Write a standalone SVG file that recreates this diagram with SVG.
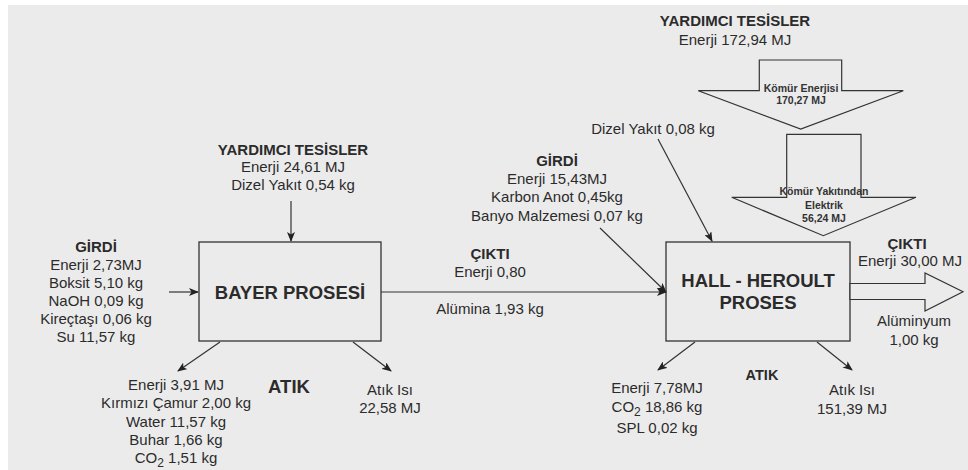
<svg xmlns="http://www.w3.org/2000/svg" width="968" height="470" viewBox="0 0 968 470">
<defs>
<style>
text{font-family:"Liberation Sans",Arial,sans-serif;fill:#2b2b2b;text-anchor:middle}
.r{font-size:15px}
.b{font-size:15px;font-weight:bold}
.big{font-size:18.5px;font-weight:bold}
.s{font-size:10.5px;font-weight:bold;fill:#333}
.box{fill:none;stroke:#333;stroke-width:1.3}
.blk{fill:#ebebeb;stroke:#333;stroke-width:1.2}
.ln{stroke:#333;stroke-width:1.2;fill:none;marker-end:url(#ah)}
</style>
<marker id="ah" markerWidth="10" markerHeight="8" refX="9" refY="4" orient="auto" markerUnits="userSpaceOnUse">
<path d="M0,0 L10,4 L0,8 L2.5,4 Z" fill="#222"/>
</marker>
</defs>
<rect width="968" height="470" fill="#ffffff"/>
<rect x="8" y="5" width="960" height="465" fill="#ebebeb"/>

<g id="connectors">
<line class="ln" x1="169" y1="292" x2="198" y2="292"/>
<line class="ln" x1="291" y1="201" x2="291" y2="241"/>
<line class="ln" x1="381" y1="292" x2="666" y2="292"/>
<line class="ln" x1="600" y1="228" x2="666" y2="292"/>
<line class="ln" x1="658" y1="139" x2="712" y2="241"/>
<line class="ln" x1="220" y1="342" x2="178" y2="371"/>
<line class="ln" x1="353" y1="342" x2="391" y2="371"/>
<line class="ln" x1="695" y1="342" x2="658" y2="370"/>
<line class="ln" x1="817" y1="342" x2="852" y2="370"/>
</g>

<g id="bayer">
<rect class="box" x="199" y="242" width="182" height="99"/>
<text class="big" x="290" y="299">BAYER PROSESİ</text>
</g>

<g id="hall-heroult">
<rect class="box" x="666" y="242" width="184" height="99"/>
<text class="big" x="758" y="287">HALL - HEROULT</text>
<text class="big" x="758" y="309">PROSES</text>
</g>

<g id="kömür-enerjisi">
<polygon class="blk" points="759.3,60 841.7,60 841.7,90.7 903.3,90.7 800.7,129 698.3,90.7 759.3,90.7"/>
<text class="s" x="801" y="91.5">Kömür Enerjisi</text>
<text class="s" x="801" y="104">170,27 MJ</text>
</g>

<g id="kömür-elektrik">
<polygon class="blk" points="786.7,134.3 861,134.3 861,197.3 916,197.3 823.3,235.7 731.7,197.3 786.7,197.3"/>
<text class="s" x="824" y="195">Kömür Yakıtından</text>
<text class="s" x="824" y="209">Elektrik</text>
<text class="s" x="824" y="222">56,24 MJ</text>
</g>

<g id="aluminyum-output">
<polygon class="blk" points="850,283.5 925,283.5 925,273 963,291.7 925,311 925,299.5 850,299.5"/>
</g>

<g id="girdi-bayer">
<text class="b" x="96" y="252">GİRDİ</text>
<text class="r" x="96" y="270">Enerji 2,73MJ</text>
<text class="r" x="96" y="288">Boksit 5,10 kg</text>
<text class="r" x="96" y="306">NaOH 0,09 kg</text>
<text class="r" x="96" y="324">Kireçtaşı 0,06 kg</text>
<text class="r" x="96" y="342">Su 11,57 kg</text>
</g>

<g id="yardimci-bayer">
<text class="b" x="293" y="155">YARDIMCI TESİSLER</text>
<text class="r" x="293" y="172">Enerji 24,61 MJ</text>
<text class="r" x="293" y="190">Dizel Yakıt 0,54 kg</text>
</g>

<g id="atik-bayer">
<text class="r" x="176" y="390">Enerji 3,91 MJ</text>
<text class="r" x="176" y="408">Kırmızı Çamur 2,00 kg</text>
<text class="r" x="176" y="427">Water 11,57 kg</text>
<text class="r" x="176" y="445">Buhar 1,66 kg</text>
<text class="r" x="176" y="463">CO<tspan font-size="12" dy="4">2</tspan><tspan dy="-4"> 1,51 kg</tspan></text>
<text class="big" x="289" y="393">ATIK</text>
<text class="r" x="390" y="395">Atık Isı</text>
<text class="r" x="390" y="413">22,58 MJ</text>
</g>

<g id="cikti-bayer">
<text class="b" x="490" y="259">ÇIKTI</text>
<text class="r" x="490" y="277">Enerji 0,80</text>
<text class="r" x="490" y="314">Alümina 1,93 kg</text>
</g>

<g id="girdi-hh">
<text class="b" x="557" y="166">GİRDİ</text>
<text class="r" x="557" y="184">Enerji 15,43MJ</text>
<text class="r" x="557" y="202">Karbon Anot 0,45kg</text>
<text class="r" x="557" y="221">Banyo Malzemesi 0,07 kg</text>
<text class="r" x="653" y="134">Dizel Yakıt 0,08 kg</text>
</g>

<g id="yardimci-hh">
<text class="b" x="735" y="26">YARDIMCI TESİSLER</text>
<text class="r" x="735" y="45">Enerji 172,94 MJ</text>
</g>

<g id="cikti-hh">
<text class="b" x="907" y="249">ÇIKTI</text>
<text class="r" x="910" y="266">Enerji 30,00 MJ</text>
<text class="r" x="914" y="326">Alüminyum</text>
<text class="r" x="914" y="345">1,00 kg</text>
</g>

<g id="atik-hh">
<text class="r" x="657" y="393">Enerji 7,78MJ</text>
<text class="r" x="657" y="412">CO<tspan font-size="12" dy="4">2</tspan><tspan dy="-4"> 18,86 kg</tspan></text>
<text class="r" x="657" y="433">SPL 0,02 kg</text>
<text class="b" x="762" y="380" style="font-size:14.5px">ATIK</text>
<text class="r" x="852" y="395">Atık Isı</text>
<text class="r" x="852" y="414">151,39 MJ</text>
</g>
</svg>
